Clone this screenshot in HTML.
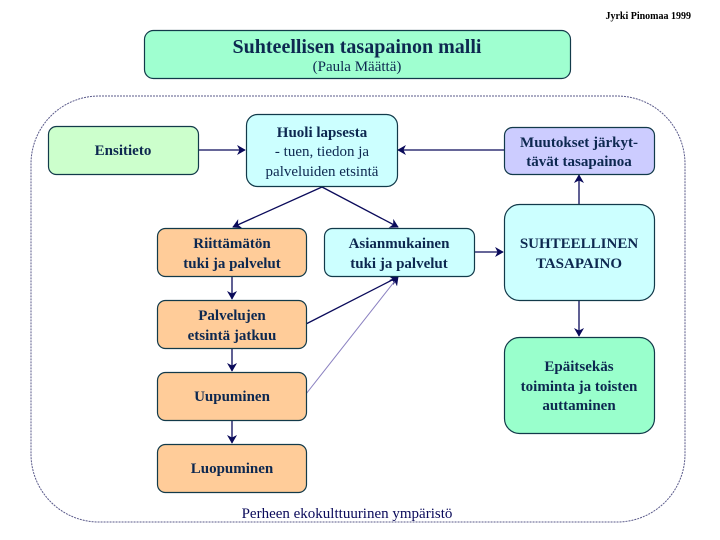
<!DOCTYPE html>
<html>
<head>
<meta charset="utf-8">
<style>
html,body{margin:0;padding:0;background:#fff;}
svg{display:block;}
text{font-family:"Liberation Serif",serif;}
</style>
</head>
<body>
<svg width="720" height="540" viewBox="0 0 720 540" xmlns="http://www.w3.org/2000/svg">
<defs>
<marker id="ah" markerWidth="10" markerHeight="10" refX="8" refY="5" orient="auto" markerUnits="userSpaceOnUse">
<path d="M1,1 L8,5 L1,9 L3,5 Z" fill="#0a0a5a" stroke="#0a0a5a" stroke-width="0.8" stroke-linejoin="miter"/>
</marker>
</defs>

<text x="691" y="19" text-anchor="end" font-size="10" font-weight="bold" fill="#000">Jyrki Pinomaa 1999</text>

<!-- title -->
<rect x="144.5" y="30.5" width="426" height="48" rx="9" fill="#9fffd0" stroke="#123a4a" stroke-width="1.2"/>
<text x="357" y="53" text-anchor="middle" font-size="20" font-weight="bold" fill="#0d2850">Suhteellisen tasapainon malli</text>
<text x="357" y="71" text-anchor="middle" font-size="15" fill="#0d2850">(Paula Määttä)</text>

<!-- environment frame -->
<rect x="31" y="96" width="654" height="426" rx="68" fill="none" stroke="#5a5a8a" stroke-width="1" stroke-dasharray="2,1"/>
<text x="347" y="518" text-anchor="middle" font-size="15" fill="#0a0a5a">Perheen ekokulttuurinen ympäristö</text>

<!-- connectors -->
<g stroke="#0a0a5a" stroke-width="1.3" fill="none">
<line x1="198" y1="150" x2="245" y2="150" marker-end="url(#ah)"/>
<line x1="504" y1="150" x2="398" y2="150" marker-end="url(#ah)"/>
<line x1="322" y1="187" x2="233" y2="227" marker-end="url(#ah)"/>
<line x1="322" y1="187" x2="398" y2="227" marker-end="url(#ah)"/>
<line x1="232" y1="276" x2="232" y2="299" marker-end="url(#ah)"/>
<line x1="232" y1="348" x2="232" y2="371" marker-end="url(#ah)"/>
<line x1="232" y1="420" x2="232" y2="443" marker-end="url(#ah)"/>
<line x1="306" y1="324" x2="398" y2="277" marker-end="url(#ah)"/>
<line x1="474" y1="252" x2="503" y2="252" marker-end="url(#ah)"/>
<line x1="579" y1="204" x2="579" y2="175" marker-end="url(#ah)"/>
<line x1="579" y1="300" x2="579" y2="336" marker-end="url(#ah)"/>
</g>
<line x1="306" y1="394" x2="398" y2="277" stroke="#8a80c0" stroke-width="1" marker-end="url(#ah)"/>

<!-- boxes -->
<g stroke="#123a4a" stroke-width="1.2">
<rect x="48.5" y="126.5" width="150" height="48" rx="8" fill="#ccffcc"/>
<rect x="246.5" y="114.5" width="151" height="72" rx="11" fill="#ccffff"/>
<rect x="504.5" y="127.5" width="150" height="47" rx="8" fill="#ccccff"/>
<rect x="157.5" y="228.5" width="149" height="48" rx="8" fill="#ffcc99"/>
<rect x="324.5" y="228.5" width="150" height="48" rx="8" fill="#ccffff"/>
<rect x="157.5" y="300.5" width="149" height="48" rx="8" fill="#ffcc99"/>
<rect x="157.5" y="372.5" width="149" height="48" rx="8" fill="#ffcc99"/>
<rect x="157.5" y="444.5" width="149" height="48" rx="8" fill="#ffcc99"/>
<rect x="504.5" y="204.5" width="150" height="96" rx="15" fill="#ccffff"/>
<rect x="504.5" y="337.5" width="150" height="96" rx="15" fill="#99ffcc"/>
</g>

<!-- texts -->
<g fill="#0d2850" font-size="15" text-anchor="middle">
<text x="123" y="155" font-weight="bold">Ensitieto</text>
<text x="322" y="137" font-weight="bold">Huoli lapsesta</text>
<text x="322" y="156">- tuen, tiedon ja</text>
<text x="322" y="176">palveluiden etsintä</text>
<text x="579" y="147" font-weight="bold">Muutokset järkyt-</text>
<text x="579" y="166" font-weight="bold">tävät tasapainoa</text>
<text x="232" y="248" font-weight="bold">Riittämätön</text>
<text x="232" y="268" font-weight="bold">tuki ja palvelut</text>
<text x="399" y="248" font-weight="bold">Asianmukainen</text>
<text x="399" y="268" font-weight="bold">tuki ja palvelut</text>
<text x="232" y="320" font-weight="bold">Palvelujen</text>
<text x="232" y="340" font-weight="bold">etsintä jatkuu</text>
<text x="232" y="401" font-weight="bold">Uupuminen</text>
<text x="232" y="473" font-weight="bold">Luopuminen</text>
<text x="579" y="248" font-weight="bold">SUHTEELLINEN</text>
<text x="579" y="268" font-weight="bold">TASAPAINO</text>
<text x="579" y="371" font-weight="bold">Epäitsekäs</text>
<text x="579" y="391" font-weight="bold">toiminta ja toisten</text>
<text x="579" y="410" font-weight="bold">auttaminen</text>
</g>
</svg>
</body>
</html>
